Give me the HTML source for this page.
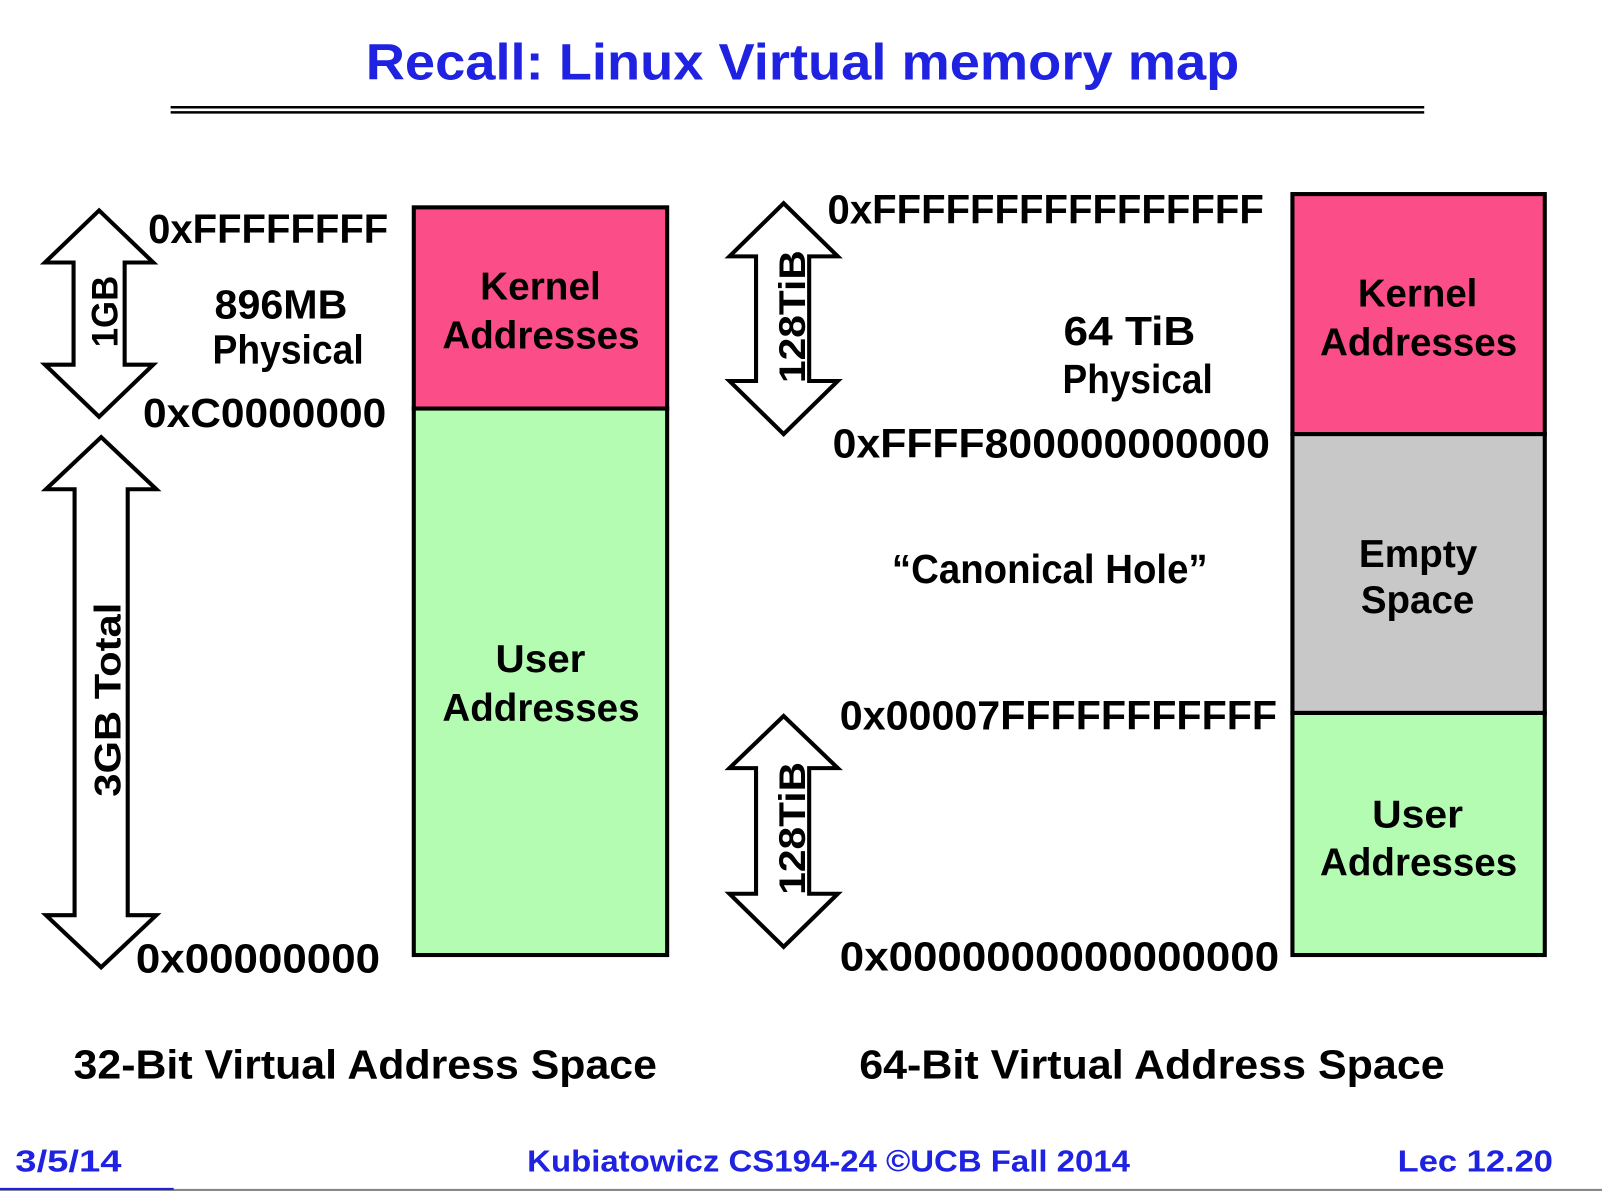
<!DOCTYPE html>
<html><head><meta charset="utf-8"><style>
html,body{margin:0;padding:0;background:#fff;}
svg{display:block;}
text{font-family:"Liberation Sans",sans-serif;font-weight:bold;}
</style></head><body>
<svg width="1602" height="1192" viewBox="0 0 1568 1167" preserveAspectRatio="none" xmlns="http://www.w3.org/2000/svg">
<rect width="1568" height="1167" fill="#fff"/>
<text x="358" y="78" font-size="50" fill="#1f22e0" textLength="855" lengthAdjust="spacingAndGlyphs">Recall: Linux Virtual memory map</text>
<line x1="167" y1="105" x2="1394" y2="105" stroke="#000" stroke-width="2.5"/>
<line x1="167" y1="110" x2="1394" y2="110" stroke="#000" stroke-width="2.5"/>

<!-- left box -->
<rect x="405" y="203" width="248" height="197" fill="#fb4d88" stroke="#000" stroke-width="4"/>
<rect x="405" y="400" width="248" height="535" fill="#b3fcb1" stroke="#000" stroke-width="4"/>
<g font-size="38" fill="#000">
<text x="470" y="293" textLength="118" lengthAdjust="spacingAndGlyphs">Kernel</text>
<text x="433" y="341" textLength="193" lengthAdjust="spacingAndGlyphs">Addresses</text>
<text x="485" y="658" textLength="88" lengthAdjust="spacingAndGlyphs">User</text>
<text x="433" y="706" textLength="193" lengthAdjust="spacingAndGlyphs">Addresses</text>
</g>

<!-- right box -->
<rect x="1265" y="190" width="247" height="235" fill="#fb4d88" stroke="#000" stroke-width="4"/>
<rect x="1265" y="425" width="247" height="273" fill="#c8c8c8" stroke="#000" stroke-width="4"/>
<rect x="1265" y="698" width="247" height="237" fill="#b3fcb1" stroke="#000" stroke-width="4"/>
<g font-size="38" fill="#000">
<text x="1329" y="300" textLength="117" lengthAdjust="spacingAndGlyphs">Kernel</text>
<text x="1292" y="348" textLength="193" lengthAdjust="spacingAndGlyphs">Addresses</text>
<text x="1330" y="555" textLength="116" lengthAdjust="spacingAndGlyphs">Empty</text>
<text x="1332" y="600" textLength="111" lengthAdjust="spacingAndGlyphs">Space</text>
<text x="1343" y="810" textLength="89" lengthAdjust="spacingAndGlyphs">User</text>
<text x="1292" y="857" textLength="193" lengthAdjust="spacingAndGlyphs">Addresses</text>
</g>

<!-- arrows -->
<g fill="#fff" stroke="#000" stroke-width="4" stroke-linejoin="miter">
<polygon points="97,206 150,257 122,257 122,357 150,357 97,408 44,357 72,357 72,257 44,257"/>
<polygon points="99,428 153,479 125,479 125,896 153,896 99,947 45,896 73,896 73,479 45,479"/>
<polygon points="767,199 820,251 792,251 792,373 820,373 767,425 714,373 740,373 740,251 714,251"/>
<polygon points="767,701 820,752 792,752 792,875 820,875 767,927 714,875 740,875 740,752 714,752"/>
</g>
<g font-size="36" fill="#000">
<text transform="translate(115,340) rotate(-90)" textLength="70" lengthAdjust="spacingAndGlyphs">1GB</text>
<text transform="translate(118,780) rotate(-90)" textLength="190" lengthAdjust="spacingAndGlyphs">3GB Total</text>
<text transform="translate(788,375) rotate(-90)" textLength="130" lengthAdjust="spacingAndGlyphs">128TiB</text>
<text transform="translate(788,876) rotate(-90)" textLength="130" lengthAdjust="spacingAndGlyphs">128TiB</text>
</g>

<g font-size="40" fill="#000">
<text x="145" y="238" textLength="235" lengthAdjust="spacingAndGlyphs">0xFFFFFFFF</text>
<text x="210" y="312" textLength="130" lengthAdjust="spacingAndGlyphs">896MB</text>
<text x="208" y="356" textLength="148" lengthAdjust="spacingAndGlyphs">Physical</text>
<text x="140" y="418" textLength="238" lengthAdjust="spacingAndGlyphs">0xC0000000</text>
<text x="133" y="952" textLength="239" lengthAdjust="spacingAndGlyphs">0x00000000</text>
<text x="810" y="219" textLength="427" lengthAdjust="spacingAndGlyphs">0xFFFFFFFFFFFFFFFF</text>
<text x="1041" y="338" textLength="129" lengthAdjust="spacingAndGlyphs">64 TiB</text>
<text x="1040" y="385" textLength="147" lengthAdjust="spacingAndGlyphs">Physical</text>
<text x="815" y="448" textLength="428" lengthAdjust="spacingAndGlyphs">0xFFFF800000000000</text>
<text x="873" y="571" textLength="309" lengthAdjust="spacingAndGlyphs">“Canonical Hole”</text>
<text x="822" y="714" textLength="428" lengthAdjust="spacingAndGlyphs">0x00007FFFFFFFFFFF</text>
<text x="822" y="950" textLength="430" lengthAdjust="spacingAndGlyphs">0x0000000000000000</text>
<text x="72" y="1056" textLength="571" lengthAdjust="spacingAndGlyphs">32-Bit Virtual Address Space</text>
<text x="841" y="1056" textLength="573" lengthAdjust="spacingAndGlyphs">64-Bit Virtual Address Space</text>
</g>

<g font-size="30" fill="#1f22e0">
<text x="15" y="1147" textLength="104" lengthAdjust="spacingAndGlyphs">3/5/14</text>
<text x="516" y="1147" textLength="590" lengthAdjust="spacingAndGlyphs">Kubiatowicz CS194-24 ©UCB Fall 2014</text>
<text x="1368" y="1147" textLength="152" lengthAdjust="spacingAndGlyphs">Lec 12.20</text>
</g>
<line x1="0" y1="1165" x2="1568" y2="1165" stroke="#888" stroke-width="2"/>
<line x1="0" y1="1164" x2="170" y2="1164" stroke="#1f22e0" stroke-width="2"/>
</svg>
</body></html>
